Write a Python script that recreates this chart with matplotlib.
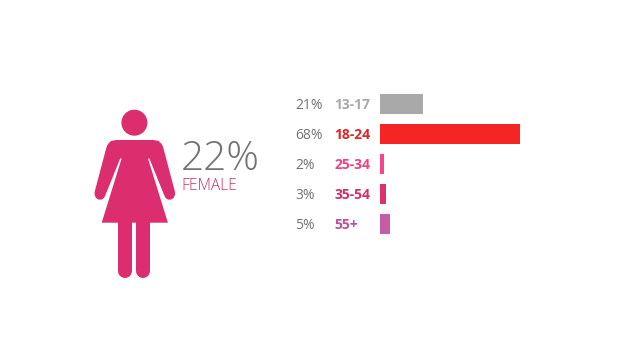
import matplotlib
matplotlib.use("Agg")
import matplotlib.pyplot as plt
from matplotlib.patches import Circle, Polygon

plt.rcParams['font.family'] = ['Open Sans', 'DejaVu Sans']

ages = ['13-17', '18-24', '25-34', '35-54', '55+']
shares = [21, 68, 2, 3, 5]
share_labels = ['21%', '68%', '2%', '3%', '5%']
bar_colors = ['#a9a9a9', '#f52525', '#f5448a', '#df2f6e', '#c85ba6']
label_colors = ['#a9a9a9', '#e02428', '#ef4088', '#d42e68', '#bb4f9a']
female_share = '22%'
female_label = 'FEMALE'

W, H = 640, 360
PINK = '#dc2e6f'
GREY = '#737373'

fig = plt.figure(figsize=(W / 100, H / 100), dpi=100, facecolor='white')

# Pixel-space layer for the pictogram and headline text
bg = fig.add_axes([0, 0, 1, 1])
bg.set_xlim(0, W)
bg.set_ylim(H, 0)
bg.axis('off')

bg.add_patch(Circle((134.4, 122.7), 13, color=PINK, lw=0))

# Silhouette outline of the torso and arms (left half, mirrored about x = 134.8)
half = [(134.8, 140), (116, 140), (111, 141), (108, 144), (106.5, 147), (94.6, 192),
        (94.6, 195), (96, 198), (98.5, 199.6), (101.5, 199.6), (104, 198), (105.5, 195),
        (120.2, 158.5), (121.6, 158.5), (101.7, 222.7), (134.8, 222.7)]
outline = half + [(2 * 134.8 - x, y) for x, y in reversed(half)]
bg.add_patch(Polygon(outline, closed=True, color=PINK, lw=0))

for xc in (125.3, 142.7):
    bg.plot([xc, xc], [220, 270.5], color=PINK, lw=10.1, solid_capstyle='round')

bg.text(180.5, 169.5, female_share, fontsize=29.2, color=GREY, fontweight='light',
        ha='left', va='baseline')
bg.text(181, 189.5, female_label, fontsize=11.2, color='#c92f68', fontweight='light',
        ha='left', va='baseline')

# Bar chart: 68% spans 140 px starting at x = 380
ax = fig.add_axes([380 / W, 1 - 239 / H, 140 / W, 150 / H])
ax.set_xlim(0, 68)
ax.set_ylim(4.5, -0.5)
ax.axis('off')
ax.barh(range(len(ages)), shares, height=2 / 3, color=bar_colors, linewidth=0)

trans = ax.get_yaxis_transform()
for i, (age, lab, col) in enumerate(zip(ages, share_labels, label_colors)):
    ax.annotate(lab, xy=(0, i), xycoords=trans, xytext=(-85, -5), textcoords='offset pixels',
                fontsize=10, color=GREY, ha='left', va='baseline', annotation_clip=False)
    ax.annotate(age, xy=(0, i), xycoords=trans, xytext=(-45.5, -5), textcoords='offset pixels',
                fontsize=10, color=col, fontweight='bold', ha='left', va='baseline',
                annotation_clip=False)

fig.savefig('out.png', dpi=100, facecolor='white')
